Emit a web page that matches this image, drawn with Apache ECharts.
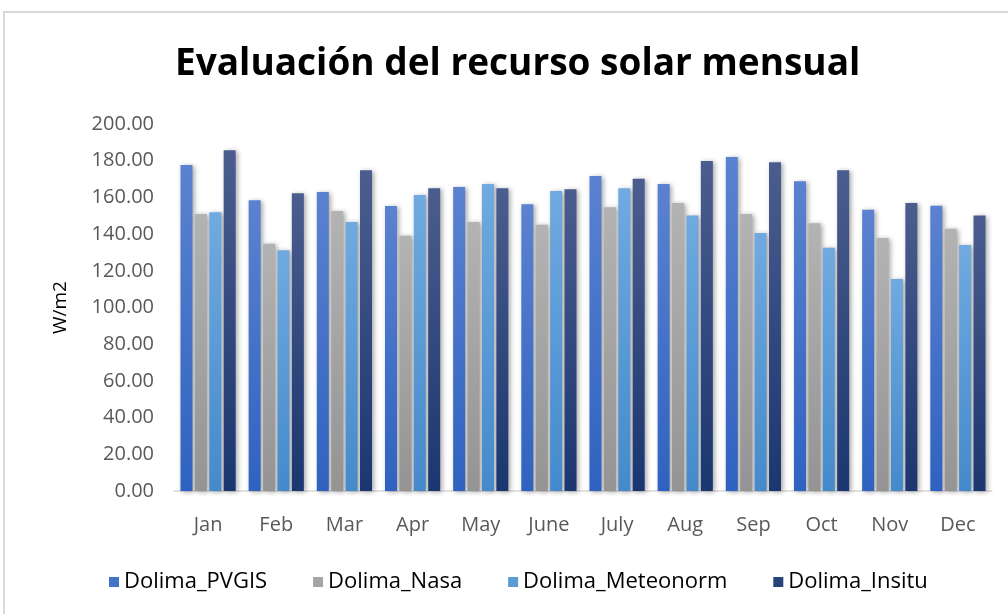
<!DOCTYPE html>
<html>
<head>
<meta charset="utf-8">
<script src="https://cdn.jsdelivr.net/npm/echarts@6/dist/echarts.min.js"></script>
<style>
  html, body { margin: 0; padding: 0; background: #fff; }
  #main { width: 1008px; height: 614px; }
</style>
</head>
<body>
<div id="main"></div>
<script>
var months = ['Jan', 'Feb', 'Mar', 'Apr', 'May', 'June', 'July', 'Aug', 'Sep', 'Oct', 'Nov', 'Dec'];
var seriesNames = ['Dolima_PVGIS', 'Dolima_Nasa', 'Dolima_Meteonorm', 'Dolima_Insitu'];
var pvgis     = [177.7, 158.4, 163.0, 155.3, 165.7, 156.2, 171.7, 167.3, 182.0, 168.8, 153.3, 155.5];
var nasa      = [151.0, 134.8, 152.6, 139.1, 146.6, 145.1, 154.6, 157.0, 151.0, 145.9, 137.9, 142.9];
var meteonorm = [151.9, 131.2, 146.6, 161.3, 167.3, 163.5, 165.0, 150.2, 140.6, 132.6, 115.5, 134.1];
var insitu    = [185.7, 162.2, 174.8, 165.0, 165.0, 164.4, 170.2, 179.8, 179.1, 174.8, 157.0, 150.2];

var colors = [
  ['#5b82d0', '#2f62c0'],
  ['#b3b3b3', '#949494'],
  ['#70aae0', '#448acb'],
  ['#4b5d8e', '#1b3670']
];
var legendColors = ['#4472c4', '#a5a5a5', '#5b9bd5', '#264478'];

function grad(c) {
  return new echarts.graphic.LinearGradient(0, 0, 0, 1, [
    { offset: 0, color: c[0] },
    { offset: 1, color: c[1] }
  ]);
}

var values = [pvgis, nasa, meteonorm, insitu];
var series = seriesNames.map(function (name, i) {
  return {
    name: name,
    type: 'bar',
    data: values[i],
    barWidth: 12,
    barGap: '20%',
    itemStyle: {
      color: grad(colors[i]),
      shadowColor: 'rgba(0,0,0,0.35)',
      shadowBlur: 5,
      shadowOffsetX: 2,
      shadowOffsetY: 1
    }
  };
});

var myChart = echarts.init(document.getElementById('main'));
var option = {
  backgroundColor: '#fff',
  animation: false,
  graphic: [{
    type: 'rect',
    shape: { x: 4, y: 12, width: 1020, height: 620 },
    style: { fill: 'none', stroke: '#d9d9d9', lineWidth: 2 },
    silent: true
  }],
  title: {
    text: 'Evaluación del recurso solar mensual',
    left: 170,
    top: 41,
    textStyle: { fontFamily: 'Open Sans', fontWeight: 'bold', fontSize: 37, color: '#000' }
  },
  legend: {
    data: seriesNames.map(function (n, i) {
      return { name: n, itemStyle: { color: legendColors[i] } };
    }),
    bottom: 16,
    left: 104,
    itemWidth: 10,
    itemHeight: 10,
    itemGap: 46,
    icon: 'rect',
    textStyle: { fontFamily: 'Open Sans', fontSize: 22, color: '#000' }
  },
  grid: { left: 174, right: 16, top: 124, bottom: 123 },
  xAxis: {
    type: 'category',
    data: months,
    axisLine: { lineStyle: { color: '#d9d9d9', width: 1.5 } },
    axisTick: { show: false },
    axisLabel: { color: '#595959', fontSize: 20, fontFamily: 'Open Sans', margin: 24 }
  },
  yAxis: {
    type: 'value',
    min: 0,
    max: 200,
    interval: 20,
    name: 'W/m2',
    nameLocation: 'middle',
    nameRotate: 90,
    nameGap: 104,
    nameTextStyle: { fontFamily: 'Open Sans', fontSize: 19, color: '#000' },
    axisLine: { show: false },
    axisTick: { show: false },
    splitLine: { show: false },
    axisLabel: {
      color: '#595959',
      fontSize: 20,
      fontFamily: 'Open Sans',
      margin: 20,
      formatter: function (v) { return v.toFixed(2); }
    }
  },
  series: series
};
myChart.setOption(option);
</script>
</body>
</html>
